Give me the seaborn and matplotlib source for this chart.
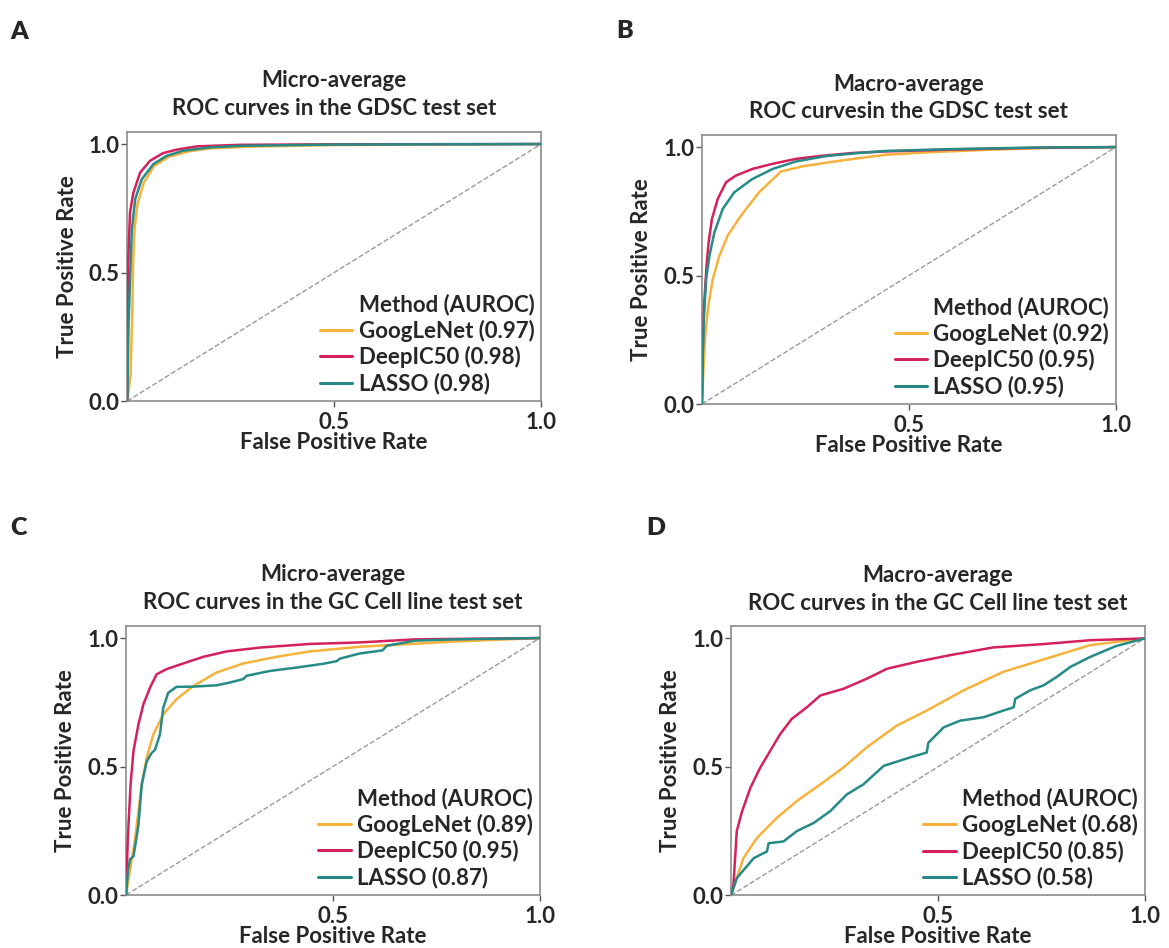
import matplotlib
matplotlib.use("Agg")
import matplotlib.pyplot as plt
import pandas as pd
import seaborn as sns

sns.set_theme(style="white")
plt.rcParams["font.family"] = ["Lato", "DejaVu Sans"]
plt.rcParams["font.weight"] = "bold"

METHODS = ["GoogLeNet", "DeepIC50", "LASSO"]
COLORS = ["#F6B23C", "#D5215B", "#268A85"]

# panel A: micro-average, GDSC
a_auc = [0.97, 0.98, 0.98]
a_goog_x = [0, 0.008, 0.012, 0.014, 0.018, 0.025, 0.04, 0.065, 0.1, 0.15, 0.2, 0.3, 0.5, 1]
a_goog_y = [0, 0.1, 0.35, 0.54, 0.68, 0.77, 0.85, 0.915, 0.95, 0.972, 0.983, 0.99, 0.996, 1]
a_deep_x = [0, 0.001, 0.002, 0.0065, 0.0145, 0.031, 0.055, 0.087, 0.119, 0.168, 0.272, 0.5, 1]
a_deep_y = [0, 0.3, 0.54, 0.733, 0.81, 0.889, 0.935, 0.965, 0.978, 0.991, 0.997, 0.999, 1]
a_lasso_x = [0, 0.003, 0.008, 0.011, 0.019, 0.035, 0.063, 0.095, 0.135, 0.2, 0.272, 0.5, 1]
a_lasso_y = [0, 0.3, 0.54, 0.668, 0.785, 0.863, 0.922, 0.954, 0.974, 0.987, 0.993, 0.998, 1]

# panel B: macro-average, GDSC
b_auc = [0.92, 0.95, 0.95]
b_goog_x = [0, 0.004, 0.008, 0.015, 0.026, 0.042, 0.062, 0.094, 0.138, 0.191, 0.243, 0.308,
            0.38, 0.444, 0.55, 0.7, 0.85, 1]
b_goog_y = [0, 0.15, 0.27, 0.38, 0.486, 0.577, 0.655, 0.733, 0.824, 0.905, 0.925, 0.941,
            0.957, 0.97, 0.98, 0.99, 0.997, 1]
b_deep_x = [0, 0.002, 0.005, 0.011, 0.016, 0.024, 0.038, 0.058, 0.082, 0.122, 0.171, 0.227,
            0.283, 0.364, 0.444, 0.6, 0.8, 1]
b_deep_y = [0, 0.22, 0.38, 0.538, 0.629, 0.72, 0.798, 0.863, 0.889, 0.915, 0.935, 0.954,
            0.965, 0.977, 0.983, 0.99, 0.997, 1]
b_lasso_x = [0, 0.002, 0.005, 0.01, 0.018, 0.03, 0.05, 0.078, 0.122, 0.171, 0.227, 0.3,
             0.379, 0.444, 0.6, 0.8, 1]
b_lasso_y = [0, 0.2, 0.35, 0.486, 0.577, 0.668, 0.759, 0.824, 0.876, 0.915, 0.944, 0.965,
             0.977, 0.985, 0.992, 0.998, 1]

# panel C: micro-average, GC cell lines
c_auc = [0.89, 0.95, 0.87]
c_goog_x = [0, 0.008, 0.015, 0.02, 0.026, 0.038, 0.05, 0.066, 0.09, 0.122, 0.163, 0.219,
            0.283, 0.364, 0.444, 0.565, 0.7, 0.8, 1]
c_goog_y = [0, 0.08, 0.15, 0.2, 0.273, 0.43, 0.534, 0.625, 0.703, 0.762, 0.814, 0.866,
            0.901, 0.927, 0.948, 0.966, 0.978, 0.987, 1]
c_deep_x = [0, 0.002, 0.004, 0.006, 0.011, 0.018, 0.03, 0.042, 0.058, 0.074, 0.098, 0.138,
            0.187, 0.243, 0.324, 0.444, 0.565, 0.7, 1]
c_deep_y = [0, 0.1, 0.2, 0.273, 0.43, 0.56, 0.664, 0.742, 0.807, 0.859, 0.879, 0.901,
            0.927, 0.948, 0.963, 0.977, 0.983, 0.995, 1]
c_lasso_x = [0, 0.005, 0.01, 0.018, 0.025, 0.03, 0.038, 0.05, 0.062, 0.07, 0.082, 0.09,
             0.102, 0.122, 0.163, 0.219, 0.251, 0.283, 0.291, 0.348, 0.412, 0.477, 0.509,
             0.517, 0.565, 0.62, 0.63, 0.7, 0.8, 1]
c_lasso_y = [0, 0.1, 0.14, 0.15, 0.22, 0.273, 0.43, 0.52, 0.553, 0.565, 0.625, 0.729,
             0.787, 0.81, 0.811, 0.816, 0.827, 0.84, 0.853, 0.872, 0.885, 0.9, 0.91,
             0.92, 0.94, 0.952, 0.97, 0.99, 0.995, 1]

# panel D: macro-average, GC cell lines
d_auc = [0.68, 0.85, 0.58]
d_goog_x = [0, 0.006, 0.03, 0.063, 0.111, 0.159, 0.216, 0.272, 0.328, 0.401, 0.473, 0.562,
            0.658, 0.755, 0.868, 1]
d_goog_y = [0, 0.028, 0.145, 0.224, 0.302, 0.367, 0.432, 0.498, 0.576, 0.661, 0.719, 0.798,
            0.87, 0.918, 0.974, 1]
d_deep_x = [0, 0.006, 0.014, 0.027, 0.047, 0.071, 0.095, 0.119, 0.147, 0.184, 0.216, 0.272,
            0.328, 0.377, 0.449, 0.53, 0.634, 0.755, 0.868, 1]
d_deep_y = [0, 0.04, 0.25, 0.328, 0.419, 0.498, 0.563, 0.628, 0.687, 0.733, 0.778, 0.804,
            0.843, 0.882, 0.909, 0.935, 0.965, 0.978, 0.993, 1]
d_lasso_x = [0, 0.014, 0.055, 0.087, 0.091, 0.127, 0.159, 0.2, 0.24, 0.28, 0.32, 0.369,
             0.433, 0.473, 0.477, 0.514, 0.554, 0.61, 0.658, 0.683, 0.687, 0.723, 0.755,
             0.787, 0.82, 0.868, 0.93, 1]
d_lasso_y = [0, 0.067, 0.145, 0.171, 0.203, 0.21, 0.25, 0.282, 0.328, 0.393, 0.432, 0.504,
             0.537, 0.556, 0.594, 0.654, 0.68, 0.693, 0.719, 0.732, 0.765, 0.798, 0.817,
             0.85, 0.889, 0.928, 0.97, 1]

panels = [
    ("A", "Micro-average\nROC curves in the GDSC test set", a_auc,
     [(a_goog_x, a_goog_y), (a_deep_x, a_deep_y), (a_lasso_x, a_lasso_y)],
     [0.1089, 0.577, 0.354, 0.2838], (0.009, 0.966)),
    ("B", "Macro-average\nROC curvesin the GDSC test set", b_auc,
     [(b_goog_x, b_goog_y), (b_deep_x, b_deep_y), (b_lasso_x, b_lasso_y)],
     [0.6005, 0.5738, 0.354, 0.2838], (0.527, 0.967)),
    ("C", "Micro-average\nROC curves in the GC Cell line test set", c_auc,
     [(c_goog_x, c_goog_y), (c_deep_x, c_deep_y), (c_lasso_x, c_lasso_y)],
     [0.1078, 0.0559, 0.354, 0.2838], (0.009, 0.443)),
    ("D", "Macro-average\nROC curves in the GC Cell line test set", d_auc,
     [(d_goog_x, d_goog_y), (d_deep_x, d_deep_y), (d_lasso_x, d_lasso_y)],
     [0.6253, 0.0555, 0.354, 0.2838], (0.553, 0.443)),
]

FS = 16
fig = plt.figure(figsize=(11.69, 9.48), dpi=100)

for letter, title, aucs, curves, rect, lpos in panels:
    ax = fig.add_axes(rect)
    rows = []
    labels = [f"{m} ({a:.2f})" for m, a in zip(METHODS, aucs)]
    for lab, (xs, ys) in zip(labels, curves):
        rows += [{"fpr": x, "tpr": y, "Method": lab} for x, y in zip(xs, ys)]
    df = pd.DataFrame(rows)
    ax.plot([0, 1], [0, 1], ls="--", color="#9a9a9a", lw=1.0, zorder=1)
    sns.lineplot(data=df, x="fpr", y="tpr", hue="Method", hue_order=labels,
                 palette=dict(zip(labels, COLORS)), sort=False, estimator=None,
                 lw=1.8, ax=ax, zorder=3)
    ax.set_xlim(0, 1)
    ax.set_ylim(0, 1.047)
    ax.set_xticks([0.5, 1.0])
    ax.set_yticks([0.0, 0.5, 1.0])
    ax.set_xticklabels(["0.5", "1.0"], fontsize=FS, fontweight="bold")
    ax.set_yticklabels(["0.0", "0.5", "1.0"], fontsize=FS, fontweight="bold")
    ax.tick_params(axis="both", length=4, width=1, color="#555555",
                   bottom=True, left=True)
    ax.tick_params(axis="x", pad=4)
    ax.tick_params(axis="y", pad=1.5)
    for s in ax.spines.values():
        s.set_color("#8c8c8c")
        s.set_linewidth(1.2)
    ax.set_xlabel("False Positive Rate", fontsize=FS, fontweight="bold", labelpad=-1)
    ax.set_ylabel("True Positive Rate", fontsize=FS, fontweight="bold", labelpad=8)
    ax.set_title(title, fontsize=FS, fontweight="bold", pad=12, linespacing=1.4)
    handles, hl = ax.get_legend_handles_labels()
    leg = ax.legend(handles, hl, title="Method (AUROC)", loc="lower right",
                    frameon=False, prop={"size": FS, "weight": "bold"},
                    title_fontproperties={"size": FS, "weight": "bold"},
                    handlelength=1.45, handletextpad=0.3, labelspacing=0.2,
                    borderaxespad=0.15, borderpad=0.15, alignment="right")
    for line in leg.get_lines():
        line.set_linewidth(2.2)
    fig.text(lpos[0], lpos[1], letter, fontsize=18, fontweight="heavy", ha="left", va="center")

fig.savefig("out.png", dpi=100)
